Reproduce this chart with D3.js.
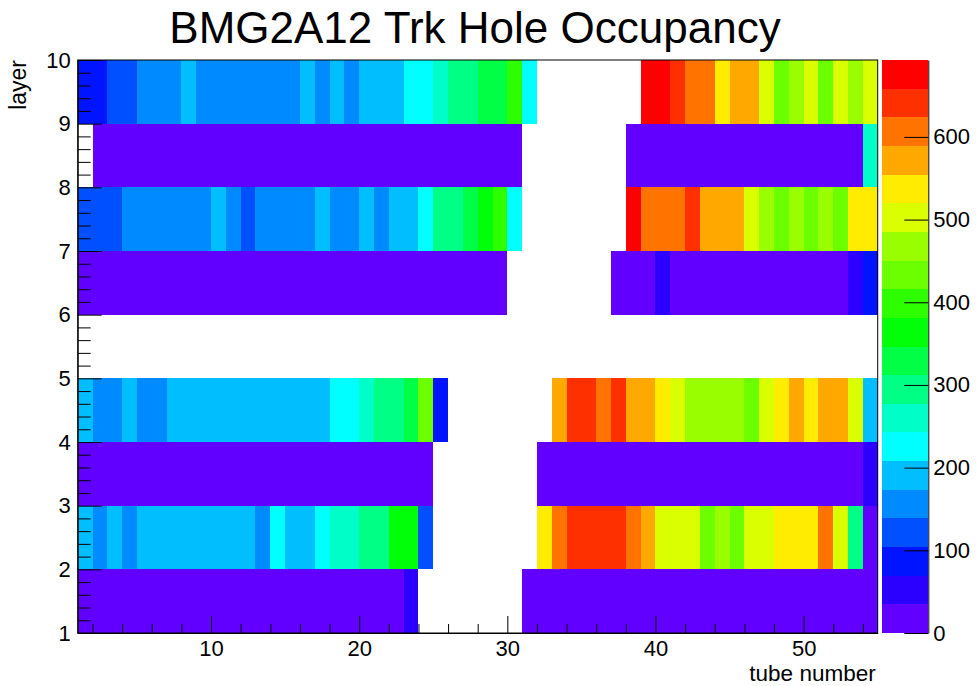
<!DOCTYPE html>
<html>
<head>
<meta charset="utf-8">
<script src="https://cdn.jsdelivr.net/npm/d3@7"></script>
<style>
  body { margin: 0; background: #fff; }
  text { font-family: "Liberation Sans", Arial, Helvetica, sans-serif; fill: #000; }
</style>
</head>
<body>
<div id="chart"></div>
<script>
// hole occupancy per tube, one array per layer (0 = empty bin)
const occ1 = [17,17,17,17,17,17,17,17,17,17, 17,17,17,17,17,17,17,17,17,17, 17,17, 52, 0,0,0,0,0,0,0,
  17,17,17,17,17,17,17,17,17,17, 17,17,17,17,17,17,17,17,17,17, 17,17,17,17];
const occ2 = [191,156,191,156, 191,191,191,191,191,191,191,191, 156,225,191,191,225,260,260,294,294,364,364,121,
  0,0,0,0,0,0,0, 537,606,641,641,641,641,606,572,502,502,502,433,468,433,502,502,537,537,537,606,502,294,17];
const occ3 = [17,17,17,17,17,17,17,17,17,17, 17,17,17,17,17,17,17,17,17,17, 17,17,17,17, 0,0,0,0,0,0,0,
  17,17,17,17,17,17,17,17,17,17, 17,17,17,17,17,17,17,17,17,17, 17,17, 52];
const occ4 = [191,156,156,191,156,156, 191,191,191,191,191,191,191,191,191,191,191, 225,225,260,294,294,329,433,87,
  0,0,0,0,0,0,0, 572,641,641,606,641,572,572,537,502,468,468,468,468,433,502,537,572,537,572,572,502,191];
const occ5 = [0,0,0,0,0,0,0,0,0,0, 0,0,0,0,0,0,0,0,0,0, 0,0,0,0,0,0,0,0,0,0,
  0,0,0,0,0,0,0,0,0,0, 0,0,0,0,0,0,0,0,0,0, 0,0,0,0];
const occ6 = [17,17,17,17,17,17,17,17,17,17, 17,17,17,17,17,17,17,17,17,17, 17,17,17,17,17,17,17,17,17,
  0,0,0,0,0,0,0, 17,17,17,52, 17,17,17,17,17,17,17,17,17,17,17,17, 52,87];
const occ7 = [121,121,121,156,156,156,156,156,156,191,156,121,156,156,156,156,191,156,156,191,156,191,191,225,
  294,294,329,364,398,225, 0,0,0,0,0,0,0, 676,606,606,606,641,572,572,572,502,468,433,468,433,468,433,537,537];
const occ8 = [0, 17,17,17,17,17,17,17,17,17,17, 17,17,17,17,17,17,17,17,17,17, 17,17,17,17,17,17,17,17,17,
  0,0,0,0,0,0,0, 17,17,17,17,17,17,17,17,17,17, 17,17,17,17,17,17, 260];
const occ9 = [87,87,121,121,156,156,156,191,156,156,156,156,156,156,156,191,156,191,156,191,191,191,225,225,
  260,294,294,329,329,398,225, 0,0,0,0,0,0,0, 693,676,641,606,606,537,572,572,502,433,468,502,433,502,468,502];

const layers = [1, 2, 3, 4, 5, 6, 7, 8, 9];
const rows = [occ1, occ2, occ3, occ4, occ5, occ6, occ7, occ8, occ9];

const xMajor = [10, 20, 30, 40, 50];
const xMinor = [2, 4, 6, 8, 12, 14, 16, 18, 22, 24, 26, 28, 32, 34, 36, 38, 42, 44, 46, 48, 52, 54];
const yMajor = [1, 2, 3, 4, 5, 6, 7, 8, 9, 10];
const zTicks = [0, 100, 200, 300, 400, 500, 600];

// ROOT rainbow palette, 20 contours
const palette = ["#6100ff", "#2c00ff", "#0014ff", "#0050ff", "#008aff", "#00beff", "#00ffff", "#00ffc8",
  "#00ff85", "#00ff45", "#00ff08", "#2eff00", "#6cff00", "#99ff00", "#daff00", "#ffec00",
  "#ffa800", "#ff7400", "#ff3000", "#ff0000"];

const W = 977, H = 686;
const svg = d3.select("#chart").append("svg")
  .attr("width", W)
  .attr("height", H);

const x = d3.scaleLinear().domain([1, 55]).range([77.7, 877.7]);
const y = d3.scaleLinear().domain([1, 10]).range([633, 60]);
const zMax = d3.max(rows.flat());
const z = d3.scaleQuantize().domain([0, zMax]).range(palette);

// cells
const cells = [];
rows.forEach((r, li) => r.forEach((v, ti) => {
  if (v > 0) cells.push({ layer: layers[li], tube: ti + 1, v });
}));

svg.append("g")
  .attr("shape-rendering", "crispEdges")
  .selectAll("rect")
  .data(cells)
  .enter()
  .append("rect")
  .attr("x", d => x(d.tube))
  .attr("y", d => y(d.layer + 1))
  .attr("width", d => x(d.tube + 1) - x(d.tube))
  .attr("height", d => y(d.layer) - y(d.layer + 1))
  .attr("fill", d => z(d.v));

// frame
svg.append("rect")
  .attr("x", x(1))
  .attr("y", y(10))
  .attr("width", x(55) - x(1))
  .attr("height", y(1) - y(10))
  .attr("fill", "none")
  .attr("stroke", "#000");

// x axis
svg.append("g")
  .attr("transform", `translate(0,${y(1)})`)
  .call(d3.axisBottom(x).tickValues(xMinor).tickFormat("").tickSizeInner(-9).tickSizeOuter(0))
  .call(g => g.select(".domain").remove());
svg.append("g")
  .attr("transform", `translate(0,${y(1)})`)
  .call(d3.axisBottom(x).tickValues(xMajor).tickSizeInner(-17).tickSizeOuter(0).tickPadding(7))
  .call(g => g.selectAll("text").style("font-size", "22px"));

// y axis
const yMinor = [];
yMajor.slice(0, -1).forEach(v => [0.2, 0.4, 0.6, 0.8].forEach(f => yMinor.push(v + f)));
svg.append("g")
  .attr("transform", `translate(${x(1)},0)`)
  .call(d3.axisLeft(y).tickValues(yMinor).tickFormat("").tickSizeInner(-13).tickSizeOuter(0))
  .call(g => g.select(".domain").remove());
svg.append("g")
  .attr("transform", `translate(${x(1)},0)`)
  .call(d3.axisLeft(y).tickValues(yMajor).tickSizeInner(-24).tickSizeOuter(0).tickPadding(7))
  .call(g => g.selectAll("text").style("font-size", "22px"));

// palette bar
const cz = d3.scaleLinear().domain([0, zMax]).range([633, 60]);
const barX0 = 882.3, barX1 = 928.3;
svg.append("g")
  .attr("shape-rendering", "crispEdges")
  .selectAll("rect")
  .data(palette)
  .enter()
  .append("rect")
  .attr("x", barX0)
  .attr("width", barX1 - barX0)
  .attr("y", (c, k) => cz((k + 1) * zMax / palette.length))
  .attr("height", (c, k) => cz(k * zMax / palette.length) - cz((k + 1) * zMax / palette.length))
  .attr("fill", c => c);

svg.append("g")
  .attr("transform", `translate(${barX1},0)`)
  .call(d3.axisRight(cz).tickValues(zTicks).tickSizeInner(-24).tickSizeOuter(0).tickPadding(5))
  .call(g => g.selectAll("text").style("font-size", "22px"));

// labels
svg.append("text")
  .attr("x", 475)
  .attr("y", 43)
  .attr("text-anchor", "middle")
  .style("font-size", "44px")
  .text("BMG2A12 Trk Hole Occupancy");

svg.append("text")
  .attr("x", x(55) - 2)
  .attr("y", 681)
  .attr("text-anchor", "end")
  .style("font-size", "22.5px")
  .text("tube number");

svg.append("text")
  .attr("transform", "rotate(-90)")
  .attr("x", -y(10))
  .attr("y", 26)
  .attr("text-anchor", "end")
  .style("font-size", "23px")
  .text("layer");
</script>
</body>
</html>
